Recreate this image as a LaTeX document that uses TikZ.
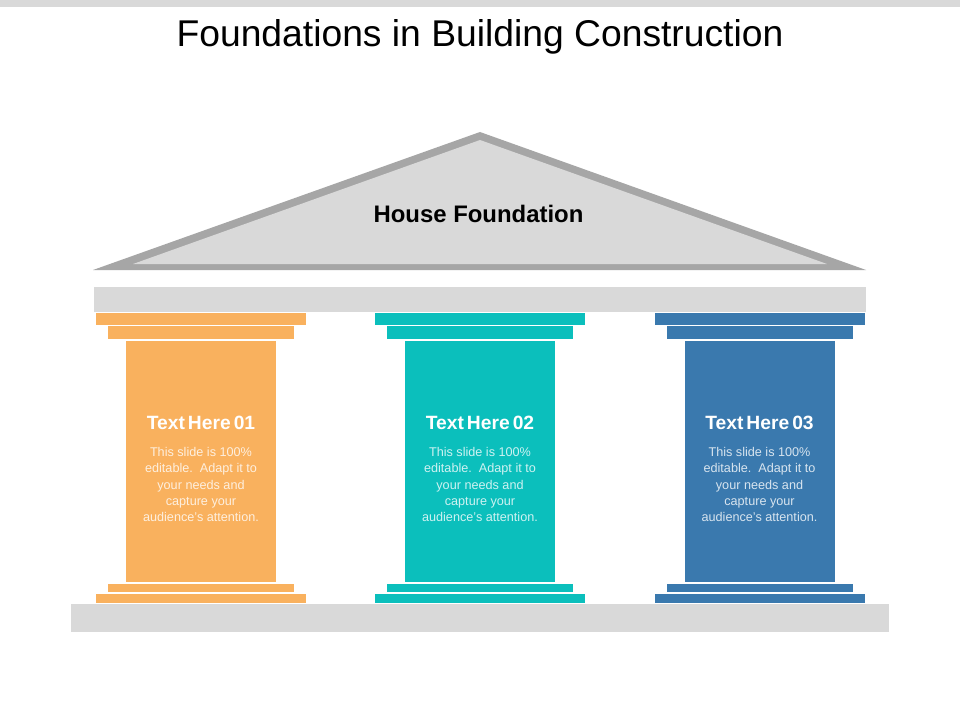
\documentclass[tikz,border=0pt]{standalone}
\usepackage{fontspec}
\setmainfont{Liberation Sans}
\definecolor{lgrey}{HTML}{D9D9D9}
\definecolor{dgrey}{HTML}{A6A6A6}
\definecolor{corange}{HTML}{F9B15E}
\definecolor{cteal}{HTML}{0BBFBC}
\definecolor{cblue}{HTML}{3A79AE}
\tikzset{
  blk/.style={inner sep=0pt, outer sep=0pt, draw=none, rectangle},
  heading/.style={text=white, font=\bfseries\fontsize{19.3}{21}\selectfont},
  body/.style={text=white, text opacity=0.8, align=center, font=\fontsize{12.7}{16.25}\selectfont, inner sep=0pt},
}
\newcommand{\pillar}[3]{%
  \node[blk, fill=#2, minimum width=210bp, minimum height=12bp] (cap1#3) at (#1,319) {};
  \node[blk, fill=#2, minimum width=186bp, minimum height=13bp] (cap2#3) at (#1,332.5) {};
  \node[blk, fill=#2, minimum width=150bp, minimum height=241bp] (shaft#3) at (#1,461.5) {};
  \node[blk, fill=#2, minimum width=186bp, minimum height=8bp] (foot2#3) at (#1,588) {};
  \node[blk, fill=#2, minimum width=210bp, minimum height=9bp] (foot1#3) at (#1,598.5) {};
  \node[heading] (head#3) at (#1,423) {Text\hspace{-0.12em} Here\hspace{-0.12em} #3};
  \node[body] (body#3) at (#1,484.5) {This slide is 100\%\\editable.\ \ Adapt it to\\your needs and\\capture your\\audience's attention.};
}
\begin{document}
\begin{tikzpicture}[x=1bp,y=-1bp]
\useasboundingbox (0,0) rectangle (960,720);
\fill[white] (0,0) rectangle (960,720);
\node[blk, fill=lgrey, minimum width=960bp, minimum height=7bp, anchor=north west] (topbar) at (0,0) {};
\node[font=\fontsize{37.4}{40}\selectfont, inner sep=0pt] (title) at (480,36.5) {Foundations in Building Construction};
% roof
\coordinate (rl) at (93,270);
\coordinate (ra) at (480,132);
\coordinate (rr) at (866,270);
\fill[dgrey] (rl) -- (ra) -- (rr) -- cycle;
\fill[lgrey] (133,264) -- (480,140) -- (827,264) -- cycle;
\node[font=\bfseries\fontsize{24}{28}\selectfont, inner sep=0pt] (roofText) at (478.5,214) {House Foundation};
% beam
\node[blk, fill=lgrey, minimum width=772bp, minimum height=25bp] (beam) at (480,299.5) {};
% base
\node[blk, fill=lgrey, minimum width=818bp, minimum height=28bp] (base) at (480,618) {};
\pillar{201}{corange}{01}
\pillar{480}{cteal}{02}
\pillar{759.5}{cblue}{03}
\end{tikzpicture}
\end{document}
